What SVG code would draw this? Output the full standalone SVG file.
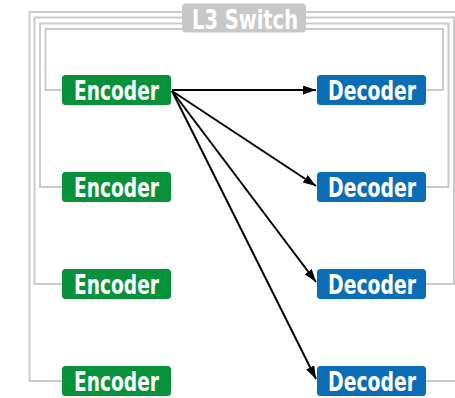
<svg xmlns="http://www.w3.org/2000/svg" width="455" height="398" viewBox="0 0 455 398">
<style>
.wire{fill:none;stroke:#cbcbcb;stroke-width:2}
.arr{fill:none;stroke:#000;stroke-width:2}
.enc{fill:#07913b}
.dec{fill:#0a6db5}
.lbl{font-family:"Liberation Sans Narrow","DejaVu Sans Condensed","Liberation Sans",sans-serif;font-weight:bold;font-size:26px;fill:#fff;text-anchor:middle}
</style>
<defs>
<marker id="ah" markerUnits="userSpaceOnUse" markerWidth="14" markerHeight="10" refX="13" refY="4.5" orient="auto">
<path d="M0,0 L13,4.5 L0,9 z" fill="#000"/>
</marker>
</defs>
<g id="wires">
<path class="wire" d="M62,90 H45.5 V29 H443 V90 H426"/>
<path class="wire" d="M62,187 H40 V23.5 H448.5 V187 H426"/>
<path class="wire" d="M62,284 H34.5 V17.5 H454 V284 H426"/>
<path class="wire" d="M62,381 H29.5 V12 H459.5 V381 H426"/>
</g>
<g id="switch">
<rect x="182" y="3.5" width="124" height="29" rx="4" fill="#c8c8c8"/>
<text class="lbl" x="245" y="28.5" textLength="106" lengthAdjust="spacingAndGlyphs">L3 Switch</text>
</g>
<g id="connectors">
<path class="arr" d="M172,90 L316,90" marker-end="url(#ah)"/>
<path class="arr" d="M172,91 L316,186" marker-end="url(#ah)"/>
<path class="arr" d="M172,91 L316,282" marker-end="url(#ah)"/>
<path class="arr" d="M172,91 L316,379" marker-end="url(#ah)"/>
</g>
<g id="enc1"><rect class="enc" x="62" y="75" width="109" height="30" rx="3.5"/><text class="lbl" x="116.5" y="99.5" textLength="85" lengthAdjust="spacingAndGlyphs">Encoder</text></g>
<g id="enc2"><rect class="enc" x="62" y="172" width="109" height="30" rx="3.5"/><text class="lbl" x="116.5" y="196.5" textLength="85" lengthAdjust="spacingAndGlyphs">Encoder</text></g>
<g id="enc3"><rect class="enc" x="62" y="269" width="109" height="30" rx="3.5"/><text class="lbl" x="116.5" y="293.5" textLength="85" lengthAdjust="spacingAndGlyphs">Encoder</text></g>
<g id="enc4"><rect class="enc" x="62" y="366" width="109" height="30" rx="3.5"/><text class="lbl" x="116.5" y="390.5" textLength="85" lengthAdjust="spacingAndGlyphs">Encoder</text></g>
<g id="dec1"><rect class="dec" x="317" y="75" width="109" height="30" rx="3.5"/><text class="lbl" x="372" y="99.5" textLength="88" lengthAdjust="spacingAndGlyphs">Decoder</text></g>
<g id="dec2"><rect class="dec" x="317" y="172" width="109" height="30" rx="3.5"/><text class="lbl" x="372" y="196.5" textLength="88" lengthAdjust="spacingAndGlyphs">Decoder</text></g>
<g id="dec3"><rect class="dec" x="317" y="269" width="109" height="30" rx="3.5"/><text class="lbl" x="372" y="293.5" textLength="88" lengthAdjust="spacingAndGlyphs">Decoder</text></g>
<g id="dec4"><rect class="dec" x="317" y="366" width="109" height="30" rx="3.5"/><text class="lbl" x="372" y="390.5" textLength="88" lengthAdjust="spacingAndGlyphs">Decoder</text></g>
</svg>
